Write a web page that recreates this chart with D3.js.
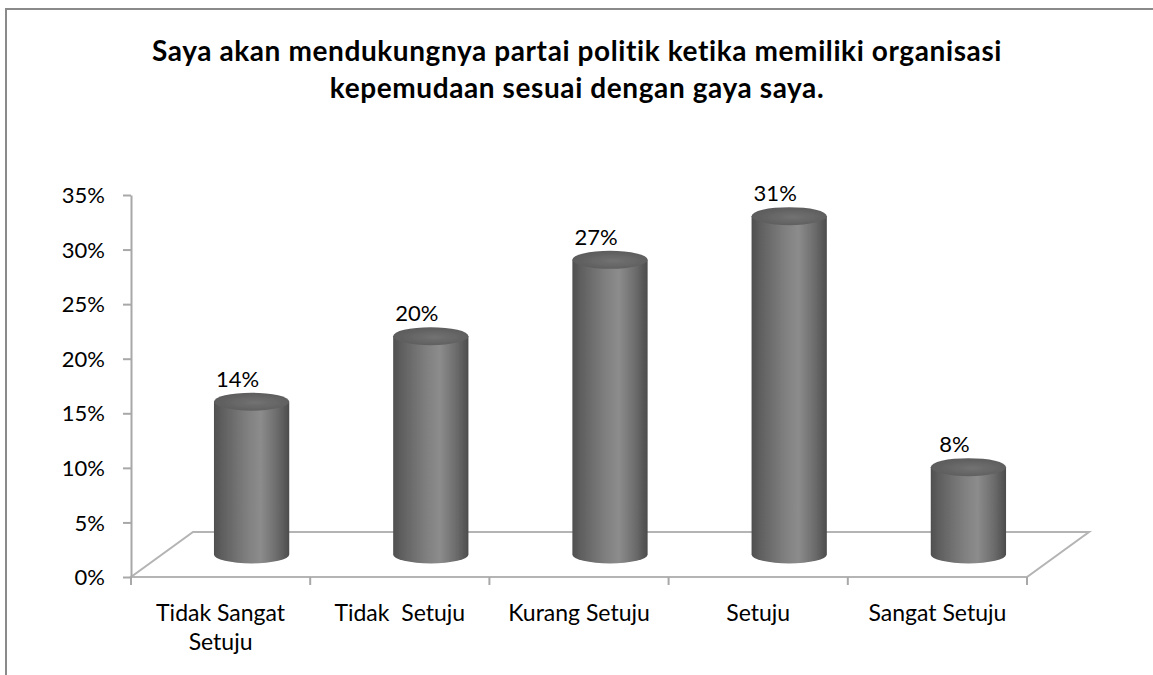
<!DOCTYPE html>
<html>

<head>
    <meta charset="UTF-8">
    <title>3D CYLINDER CHART</title>
    <script src="https://d3js.org/d3.v7.min.js"></script>
    <style>
        body { margin: 0; background: #fff; }
        svg text { font-family: Lato, "Open Sans", sans-serif; }
    </style>
</head>

<body>
    <div id="chart"></div>
    <script type="text/javascript">
        const categories = ["Tidak Sangat Setuju", "Tidak  Setuju", "Kurang Setuju", "Setuju", "Sangat Setuju"];
        const values = [0.14, 0.20, 0.27, 0.31, 0.08];
        const valueLabels = ["14%", "20%", "27%", "31%", "8%"];
        const yTicks = [0, 0.05, 0.10, 0.15, 0.20, 0.25, 0.30, 0.35];
        const titleLines = ["Saya akan mendukungnya partai politik ketika memiliki organisasi",
            "kepemudaan sesuai dengan gaya saya."];

        const width = 1153;
        const height = 675;
        // depth of the 3D floor (offset of the back edge)
        const depthX = 62, depthY = -45;

        const svg = d3.select("#chart").append("svg")
            .attr("width", width)
            .attr("height", height);

        // outer chart frame
        svg.append("rect")
            .attr("x", 6).attr("y", 9)
            .attr("width", 1300).attr("height", 800)
            .attr("fill", "none")
            .attr("stroke", "#8a8a8a")
            .attr("stroke-width", 2);

        svg.append("text")
            .attr("text-anchor", "middle")
            .attr("font-weight", "bold")
            .attr("font-size", 28)
            .attr("letter-spacing", 0.6)
            .selectAll("tspan")
            .data(titleLines)
            .join("tspan")
            .attr("x", 577)
            .attr("y", (d, i) => 61 + i * 37)
            .text(d => d);

        const x = d3.scaleBand().domain(categories).range([131, 1027]);
        const y = d3.scaleLinear().domain([0, 0.35]).range([577, 195]);

        const defs = svg.append("defs");
        const grad = defs.append("linearGradient").attr("id", "cyl")
            .attr("x1", "0%").attr("x2", "100%").attr("y1", "0%").attr("y2", "0%");
        [[0, "#4f4f4f"], [0.12, "#606060"], [0.45, "#808080"], [0.62, "#8c8c8c"], [0.85, "#6a6a6a"], [1, "#4c4c4c"]]
            .forEach(s => grad.append("stop").attr("offset", s[0]).attr("stop-color", s[1]));
        const topGrad = defs.append("radialGradient").attr("id", "cyltop")
            .attr("cx", "55%").attr("cy", "55%").attr("r", "60%");
        [[0, "#727272"], [1, "#5a5a5a"]]
            .forEach(s => topGrad.append("stop").attr("offset", s[0]).attr("stop-color", s[1]));
        const blur = defs.append("filter").attr("id", "soft");
        blur.append("feGaussianBlur").attr("stdDeviation", 0.6);

        // floor
        const floor = [[131, y(0)], [1027, y(0)], [1027 + depthX, y(0) + depthY], [131 + depthX, y(0) + depthY]];
        svg.append("path")
            .attr("d", d3.line()(floor) + "Z")
            .attr("fill", "none")
            .attr("stroke", "#b4b4b4")
            .attr("stroke-width", 2);

        // category ticks on the front edge
        const bounds = categories.map(c => x(c)).concat([x.range()[1]]);
        svg.append("g").selectAll("line")
            .data(bounds)
            .join("line")
            .attr("x1", d => d).attr("x2", d => d)
            .attr("y1", y(0)).attr("y2", y(0) + 8)
            .attr("stroke", "#a8a8a8")
            .attr("stroke-width", 2);

        // y axis
        const yAxis = svg.append("g")
            .attr("transform", "translate(131,0)")
            .call(d3.axisLeft(y).tickValues(yTicks).tickFormat(d3.format(".0%")).tickSize(8).tickSizeOuter(0).tickPadding(18));
        yAxis.select(".domain").attr("stroke", "#a8a8a8").attr("stroke-width", 2);
        yAxis.selectAll(".tick line").attr("stroke", "#a8a8a8").attr("stroke-width", 2);
        yAxis.selectAll(".tick text")
            .attr("font-size", 22)
            .attr("font-family", "Lato, sans-serif")
            .attr("fill", "#000")
            .attr("dy", "0.35em");

        // cylinders
        const bw = x.bandwidth() * 0.42;
        const rx = bw / 2, ry = 9;
        const cx = c => x(c) + x.bandwidth() / 2 + depthX / 2;
        const baseY = y(0) + depthY / 2;
        const topY = v => y(v) + depthY / 2;

        const bars = svg.append("g").selectAll("g")
            .data(categories.map((c, i) => ({ c: c, v: values[i], label: valueLabels[i] })))
            .join("g");

        bars.append("path")
            .attr("d", d => {
                const l = cx(d.c) - rx, r = cx(d.c) + rx, t = topY(d.v);
                return "M" + l + "," + t + "L" + l + "," + baseY +
                    "A" + rx + "," + ry + " 0 0 0 " + r + "," + baseY +
                    "L" + r + "," + t + "Z";
            })
            .attr("fill", "url(#cyl)")
            .attr("filter", "url(#soft)");

        bars.append("ellipse")
            .attr("cx", d => cx(d.c))
            .attr("cy", d => topY(d.v))
            .attr("rx", rx)
            .attr("ry", ry)
            .attr("fill", "url(#cyltop)")
            .attr("filter", "url(#soft)");

        bars.append("text")
            .attr("x", d => x(d.c) + x.bandwidth() / 2 + 17)
            .attr("y", d => topY(d.v) - 15)
            .attr("text-anchor", "middle")
            .attr("font-size", 22)
            .text(d => d.label);

        // category labels, wrapped
        const xl = svg.append("g").selectAll("text")
            .data(categories)
            .join("text")
            .attr("text-anchor", "middle")
            .attr("font-size", 23)
            .style("white-space", "pre")
            .attr("y", 621);
        xl.each(function (d) {
            const t = d3.select(this);
            const px = x(d) + x.bandwidth() / 2;
            const words = d.split(" ");
            let lines = [d];
            if (d.length > 15) {
                lines = [words.slice(0, -1).join(" "), words[words.length - 1]];
            }
            lines.forEach((ln, i) => {
                t.append("tspan").attr("x", px).attr("dy", i === 0 ? 0 : 29).text(ln);
            });
        });
    </script>
</body>

</html>
